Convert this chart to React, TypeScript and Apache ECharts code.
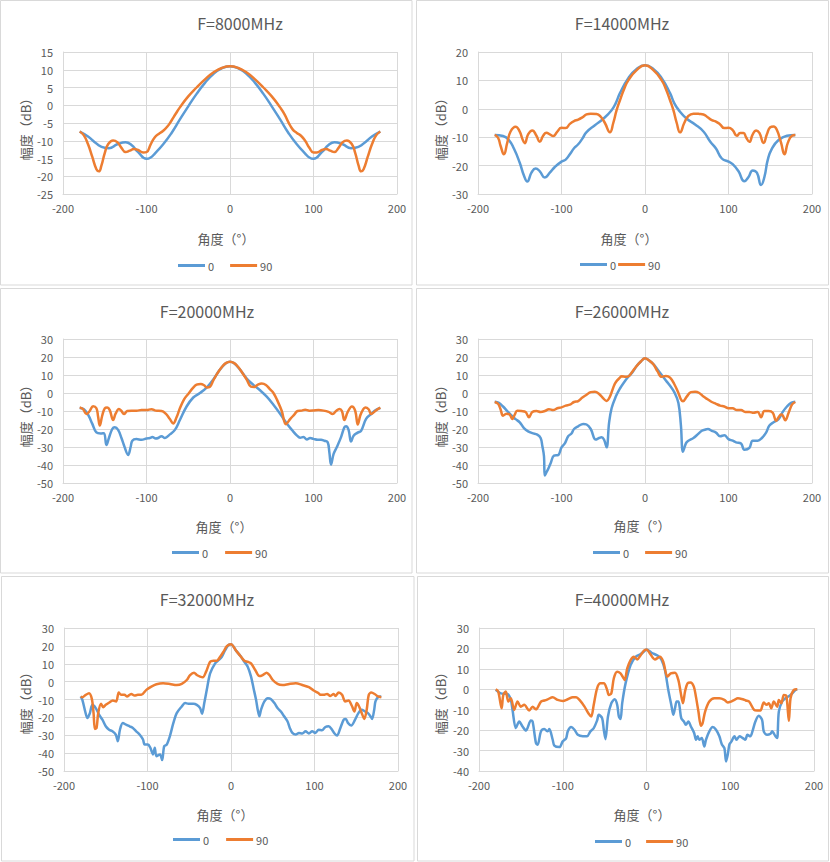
import React, { useEffect, useRef } from "react";
import * as echarts from "echarts";

// ---------- DATA (angle in degrees, amplitude in dB) ----------
const legendNames = ["0", "90"];
const xTicks = { min: -200, max: 200, interval: 100 };

const f8000_0 = [[-180,-7.4],[-170,-8.8],[-160,-10.8],[-150,-12],[-145,-12.1],[-135,-11],[-125,-10.4],[-118,-11.2],[-110,-13.2],[-100,-15.1],[-95,-14.7],[-90,-13.6],[-80,-11],[-70,-7.8],[-60,-4],[-50,-0.3],[-40,3.2],[-30,6.3],[-20,8.8],[-10,10.4],[0,11],[10,10.4],[20,8.8],[30,6.3],[40,3.2],[50,-0.3],[60,-4],[70,-7.8],[80,-11],[90,-13.6],[95,-14.7],[100,-15.1],[110,-13.2],[118,-11.2],[125,-10.4],[135,-11],[145,-12.1],[150,-12],[160,-10.8],[170,-8.8],[180,-7.4]];
const f8000_90 = [[-180,-7.4],[-175,-8.5],[-170,-11],[-165,-14.5],[-160,-18],[-157,-18.6],[-154,-17],[-150,-13.5],[-146,-11],[-140,-9.9],[-135,-10.4],[-130,-12],[-125,-13.2],[-120,-12.8],[-115,-12.3],[-110,-12.6],[-104,-13.3],[-100,-13.2],[-95,-11],[-90,-9],[-85,-8],[-80,-7.2],[-75,-6],[-70,-4.3],[-65,-2.4],[-60,-0.6],[-50,2.5],[-40,5],[-30,7.3],[-20,9.2],[-10,10.5],[0,11],[10,10.5],[20,9.2],[30,7.3],[40,5],[50,2.5],[60,-0.6],[65,-2.4],[70,-4.8],[75,-6.8],[80,-7.8],[85,-8.6],[90,-10],[95,-12],[100,-13.3],[104,-13.3],[110,-12.6],[115,-12.3],[120,-12.8],[125,-13.2],[130,-12],[135,-10.4],[140,-9.9],[146,-11],[150,-13.5],[154,-17],[157,-18.6],[160,-18],[165,-14.5],[170,-11],[175,-8.5],[180,-7.4]];

const f14000_0 = [[-180,-9.2],[-170,-9.6],[-163,-11],[-157,-14],[-150,-19],[-145,-23.5],[-141,-25.6],[-136,-22.5],[-131,-21],[-126,-22],[-120,-24.2],[-114,-22.5],[-108,-20.5],[-100,-18.6],[-95,-17.9],[-90,-16],[-85,-13.9],[-80,-12.5],[-75,-10.5],[-70,-8.2],[-60,-5.8],[-50,-3.5],[-40,-0.5],[-35,2],[-30,5.5],[-20,10.8],[-10,14],[0,15.3],[10,14],[20,10.8],[30,5.5],[35,2],[40,-0.3],[50,-3.5],[60,-5.5],[70,-8],[78,-11.5],[85,-14],[92,-17.5],[100,-18.6],[105,-19.5],[112,-22],[119,-25.5],[124,-24],[129,-21.7],[134,-22.5],[139,-26.8],[143,-24],[147,-18],[152,-14],[160,-11],[170,-9.5],[180,-9.2]];
const f14000_90 = [[-180,-9.2],[-176,-10.2],[-173,-13],[-169,-16],[-165,-12],[-161,-8],[-155,-6.3],[-150,-8],[-147,-10.5],[-144,-12.1],[-140,-9],[-135,-7.6],[-130,-9.5],[-126,-11.6],[-122,-9.5],[-118,-8.4],[-114,-9],[-110,-9.6],[-105,-8],[-100,-6.7],[-95,-6.8],[-90,-5.3],[-85,-4.3],[-80,-3.8],[-75,-3],[-70,-2],[-65,-1.7],[-58,-1.8],[-53,-2.8],[-48,-5],[-42,-8.3],[-38,-5],[-34,-0.5],[-30,3],[-25,7],[-20,10],[-10,13.6],[0,15.3],[10,13.6],[20,10],[25,7],[30,3],[34,-0.5],[38,-5],[42,-8.3],[47,-5],[52,-2.5],[58,-1.7],[65,-1.8],[70,-2],[75,-3],[80,-4],[85,-4.5],[90,-5.5],[95,-6.8],[100,-6.7],[105,-7.5],[110,-9.5],[114,-8.5],[118,-8.5],[121,-10],[125,-11.6],[129,-9],[133,-7.6],[137,-8.5],[142,-12],[146,-9],[150,-6.5],[154,-6.2],[158,-7.5],[163,-12],[167,-16],[171,-12],[176,-9.5],[180,-9.2]];

const f20000_0 = [[-180,-8.3],[-175,-9],[-170,-12],[-165,-17],[-160,-21.9],[-155,-22.5],[-151,-22.3],[-148,-28.9],[-145,-25],[-141,-20],[-138,-19],[-134,-20.5],[-130,-25],[-127,-29],[-122,-34.4],[-119,-30],[-117,-26.5],[-112,-25.6],[-106,-26],[-100,-25.3],[-96,-25],[-93,-24.5],[-89,-25.3],[-86,-25],[-82,-24],[-78,-25],[-72,-23],[-66,-20.5],[-60,-15],[-52,-7.5],[-44,-2.5],[-36,0],[-28,3],[-20,7.5],[-12,13],[-5,16.5],[0,17.4],[5,16.5],[12,13],[20,8],[28,4.5],[36,1.5],[44,-2],[52,-6.5],[60,-11.5],[68,-17],[75,-21],[80,-23.5],[84,-24.8],[88,-24.5],[92,-25.8],[96,-25],[100,-25.5],[105,-26],[109,-26],[113,-26.5],[117,-27.3],[119,-33],[121,-39.8],[124,-34],[128,-30],[133,-24.5],[137,-19],[139,-18.5],[142,-20.5],[145,-27],[148,-23.7],[153,-22],[157,-21],[163,-14.4],[169,-11.7],[175,-9.3],[180,-8.3]];
const f20000_90 = [[-180,-8],[-176,-9],[-172,-11.7],[-168,-10],[-164,-7.4],[-160,-8.5],[-158,-13],[-156,-18.1],[-153,-12.5],[-150,-8.5],[-147,-8],[-144,-9.5],[-140,-15],[-137,-11.5],[-133,-8.9],[-130,-10],[-127,-11.7],[-123,-10],[-118,-9.8],[-112,-9.8],[-106,-9.5],[-100,-9.5],[-94,-9],[-89,-9.8],[-82,-10],[-77,-11.5],[-72,-14.5],[-68,-16.9],[-64,-13.5],[-60,-8.5],[-55,-3.5],[-50,-0.5],[-44,3],[-40,4.6],[-35,5],[-31,4.3],[-28,3.1],[-24,3.5],[-20,7],[-15,11],[-10,14.3],[-5,16.6],[0,17.4],[5,16.6],[10,14.3],[15,11],[20,7.5],[25,3.5],[29,3.3],[33,4.5],[38,5.3],[43,4.5],[48,2],[52,0],[57,-4.5],[62,-10],[67,-17.3],[72,-14.5],[77,-12],[81,-10],[86,-9.8],[90,-9.3],[95,-9.8],[100,-9.7],[106,-9.5],[112,-9.8],[118,-10.5],[123,-11.6],[127,-10],[131,-8.9],[134,-10],[137,-15],[141,-10.5],[146,-7.5],[150,-10],[153,-17.5],[156,-12.5],[159,-9.5],[162,-8],[166,-9],[169,-11.7],[174,-10],[180,-8]];

const f26000_0 = [[-180,-4.8],[-175,-5.5],[-170,-7.5],[-165,-10],[-160,-12.5],[-155,-14.5],[-150,-16.3],[-145,-19.5],[-140,-21.3],[-135,-22.3],[-129,-23.1],[-125,-25],[-123,-29.3],[-121,-35],[-120,-45.9],[-118,-44],[-116,-42.2],[-113,-39],[-109,-34.8],[-104,-34.5],[-100,-30.2],[-96,-28],[-92,-24],[-88,-22.5],[-85,-20],[-80,-18.5],[-74,-17.2],[-70,-17.5],[-65,-20],[-59,-25.9],[-55,-25],[-52,-24.6],[-49,-26],[-46,-30.2],[-43,-16.5],[-40,-8.5],[-35,-2],[-30,2.5],[-25,6],[-20,9],[-15,11.5],[-10,15],[-5,17.5],[0,19.3],[5,18],[10,16],[15,13],[20,10],[25,7],[30,4],[35,0.5],[40,-5.5],[43,-18],[45.5,-32.6],[49,-28],[51.5,-26.7],[58,-25],[62,-23.5],[68,-21],[71.5,-20.4],[75.4,-20],[80,-21],[85,-22],[90,-24],[95,-23.5],[100,-25.6],[105,-26.5],[109,-27.4],[115,-28],[119,-31.5],[125,-30.5],[129,-26.5],[135,-26.5],[140,-25],[145,-22],[149,-18.1],[155,-16],[160,-14.5],[165,-10.5],[170,-7.5],[175,-5.5],[180,-4.8]];
const f26000_90 = [[-180,-5],[-176,-6],[-173,-9],[-170,-12.6],[-166,-11.5],[-162,-12],[-159,-14.4],[-156,-12],[-153,-9.8],[-148,-10],[-143,-10.5],[-139,-13.5],[-135,-10.5],[-130,-10],[-125,-10.5],[-120,-10],[-115,-9],[-110,-9.5],[-105,-8.5],[-100,-8],[-95,-7],[-90,-6.5],[-85,-5],[-80,-4.5],[-75,-2.5],[-70,-1],[-65,0.5],[-60,0.7],[-55,-0.5],[-50,-3],[-46,-4.4],[-42,-2],[-38,3],[-35,6],[-30,8.5],[-28,9.3],[-23,9],[-19,9.5],[-15,12],[-10,15],[-5,17.5],[0,19.3],[5,18],[10,16],[15,12],[20,9],[25,9.5],[30,8.5],[35,5],[40,0],[43,-3.5],[45.5,-4.6],[50,-2],[55,0.5],[60,0.7],[65,0],[70,-2],[75,-3.5],[80,-5],[85,-6],[90,-7],[95,-7.5],[100,-8.5],[105,-8.5],[110,-9.5],[115,-9.5],[120,-10.5],[125,-10.5],[130,-11],[135,-10.5],[139,-13.5],[143,-10],[148,-10],[153,-11],[157,-15.4],[160,-13.5],[163,-12],[165,-12.5],[168,-15.2],[172,-11],[176,-6.5],[180,-5]];

const f32000_0 = [[-180,-8.3],[-178,-10.2],[-174.6,-16.7],[-172,-20.4],[-169,-17.6],[-166,-13],[-162,-14.8],[-158,-18.5],[-154,-21.3],[-150,-25],[-146,-26.9],[-142,-27.8],[-138,-29.6],[-135.6,-33.3],[-133,-26.9],[-129.6,-23.1],[-125.6,-24.1],[-121.5,-25],[-117.5,-25.9],[-113.5,-27.8],[-109.5,-29.6],[-105.4,-32.4],[-103.4,-35.2],[-99.4,-35.2],[-96.6,-37],[-93.4,-40.7],[-91.3,-37],[-89.3,-41.7],[-85,-40.7],[-82.5,-43.9],[-80,-36.1],[-77,-35.2],[-73,-30.2],[-69,-23.1],[-65,-17.6],[-59,-13.9],[-55,-12],[-51,-12.4],[-45,-12.4],[-41,-13],[-37,-14.8],[-34.6,-18],[-32,-12],[-29,-4.6],[-25,4.6],[-19,10.2],[-15,12],[-11,13.9],[-7,17.6],[-3,20.4],[0,20.9],[6.3,17.2],[12,13.9],[16,11.1],[20,8.3],[24,2.8],[27,-3.7],[30,-10.2],[32,-15.7],[34,-19.4],[36,-15.7],[40,-11.1],[44,-9.3],[48,-9.8],[52,-12],[55.7,-14.8],[59.7,-16.7],[63.6,-19.4],[67.6,-22.2],[70.4,-25.9],[73.5,-28.7],[77.5,-29.6],[81.4,-28.7],[85.4,-29],[89.3,-27.8],[93.3,-29],[97.2,-27.8],[101,-28.7],[105,-26.9],[109,-27.2],[113,-25.4],[117,-25],[121,-26.9],[124,-29],[127,-30.2],[131,-25.9],[135,-21.3],[137.5,-20.9],[140,-23.1],[144,-24.6],[148.6,-21.3],[152.6,-17.6],[156.5,-15.7],[160.5,-16.7],[164,-17.6],[167.6,-19.8],[169,-20.9],[171.5,-15.7],[173,-11.1],[176,-8.7],[180,-8.3]];
const f32000_90 = [[-180,-8.3],[-178,-8.7],[-174,-7.4],[-170,-6.5],[-166.6,-9.8],[-164.6,-17.6],[-163,-26.5],[-161,-25.9],[-159,-17.6],[-155.7,-12.4],[-153,-14.3],[-150,-13],[-145.7,-11.7],[-141.6,-10.6],[-137.6,-11.1],[-134.4,-6.1],[-131.6,-7.4],[-127.6,-7.4],[-124.7,-8.3],[-119.5,-6.9],[-115.5,-7.8],[-111.5,-7.4],[-107.4,-7.4],[-101.4,-4.6],[-95.4,-2.8],[-89.3,-1.5],[-81.3,-0.9],[-73.2,-1.3],[-65,-1.9],[-59,-1.3],[-53,0.9],[-49,3.7],[-44.3,5],[-41,3.7],[-37,2.8],[-33.8,2.4],[-29.8,5.6],[-25,11.1],[-21,11.7],[-17,11.7],[-13,13.9],[-9,16.7],[-5,19.8],[0,20.9],[6.3,17.2],[12,13.9],[16,11.7],[20,11.1],[24,10.2],[29,6.5],[34,3.1],[38,3.7],[42.7,5],[46,3.7],[50,0.9],[55.7,-1.3],[61.7,-1.9],[69.6,-1.3],[77.5,-0.9],[85.4,-1.9],[93.3,-3.1],[99,-5],[105,-6.5],[107,-7.4],[111,-7.4],[115,-6.9],[119,-8],[123,-6.9],[125,-8],[129,-6.1],[133,-7.4],[136.8,-11.1],[140.7,-10.6],[144.7,-13.5],[147.8,-16.7],[150.6,-12],[153.4,-13.9],[156.5,-17.6],[159.7,-20.9],[162.5,-15.7],[165,-7.4],[168,-6.1],[172,-6.9],[176,-8.3],[180,-8.7]];

const f40000_0 = [[-180,-0.3],[-174,-2],[-166,-2.3],[-162,-5.2],[-160,-10],[-156,-19],[-152,-15.8],[-148,-18.2],[-144,-20.2],[-138,-15.3],[-136,-15.8],[-132,-26.3],[-130,-27.2],[-126,-20.6],[-122,-19.5],[-118,-20.6],[-116,-19.5],[-112,-24.7],[-110,-27.6],[-104,-28.3],[-100,-25.5],[-96,-24],[-94,-20.6],[-90,-18.5],[-86,-19.8],[-82,-22.3],[-76,-23],[-71,-23],[-67,-20.6],[-63,-19],[-59,-15.3],[-57,-12.5],[-53,-14.1],[-51,-19.8],[-49,-24.4],[-46,-13.3],[-42,-6.8],[-38,-4.9],[-35,-7.6],[-33,-13.3],[-31,-14.6],[-29,-6.8],[-25,2.9],[-19,11.9],[-13,15.9],[-7,17.2],[-1,19.2],[0,19.5],[6,17.9],[14,16.3],[18,14.3],[22,9.4],[26,-0.3],[30,-8.5],[32,-12.5],[34,-9.3],[36,-6],[38,-6],[39.5,-8.5],[41.5,-14.1],[44.7,-15.8],[47,-17.4],[50,-15.8],[53,-18.2],[57,-21.5],[59,-24.7],[61,-23],[63,-24.7],[66,-23.9],[69,-28],[71,-24.7],[75,-20.6],[79,-18.5],[83,-19.8],[87,-23],[90,-27],[93,-28.8],[95,-35.3],[97,-32],[99,-27],[101.5,-25.5],[105,-23],[107.5,-24.7],[111,-23],[115,-23.9],[118,-24.7],[120.5,-22.3],[124,-23],[126.5,-20.6],[130,-15.8],[134,-13],[138,-15],[140,-20.6],[144,-22.3],[148,-21.8],[150,-20.6],[154,-23],[156,-23.9],[158,-10.9],[162,-6],[166,-4.4],[172,-2.8],[178,-0.3],[180,0]];
const f40000_90 = [[-180,0],[-177,-1.1],[-173,-9.3],[-171,-2.8],[-168,-1.1],[-165,-6],[-162,-4.4],[-158,-10.1],[-154,-6],[-150,-8.5],[-146,-7.6],[-140,-10.4],[-136,-8.5],[-132,-9.8],[-126,-6],[-122,-5.5],[-118,-4.9],[-112,-3.9],[-106,-5.2],[-100,-5.7],[-94,-4.9],[-88,-3.9],[-84,-3.9],[-80,-5.2],[-74,-8.5],[-69,-12],[-66,-13.3],[-63,-7.6],[-59,0.5],[-55,2.9],[-51,2.9],[-47,-0.3],[-45,-2.8],[-42,-2],[-39,5.4],[-35,8.6],[-31,7.8],[-28.5,6.2],[-26,4.6],[-23,10.2],[-19,14.3],[-15,15.9],[-11,14.6],[-7,16.7],[-3,18.9],[0,19.5],[4,17.6],[10,14.6],[16,15.9],[20,13.5],[25,6.2],[29,7.8],[34,8.1],[38,4.6],[41,-2],[43.5,-6.8],[46,-1.1],[49,2.9],[52.5,3.3],[56.5,1.3],[59,-3.6],[62,-10.9],[65,-17.9],[67,-16.6],[70,-10.9],[75,-6],[81,-4.4],[87,-4.4],[93,-5.2],[97,-6.5],[101,-6],[105,-5.2],[109,-4.4],[115,-4.9],[118.5,-5.5],[122.5,-6],[128.5,-10.1],[132,-10.4],[136,-10.4],[140,-6.5],[143.5,-7.6],[146,-6.8],[149,-9.3],[152,-6],[156,-8.5],[158,-5.2],[161,-6.8],[164,-2.8],[167,-3.3],[170,-15.4],[172,-4.4],[176,-0.3],[180,0]];

// ---------- LAYOUT ----------
const FONT = '"Microsoft YaHei", "Noto Sans CJK SC", "Noto Sans", sans-serif';
const TXT = "#595959";
const GRIDC = "#d9d9d9";
const BLUE = "#5B9BD5";
const ORANGE = "#ED7D31";

const panels = [
  { title: "F=8000MHz", s0: f8000_0, s90: f8000_90, yMin: -25, yMax: 15, yInt: 5, smooth: true,
    box: [0.5, 0.5, 411.5, 284.5], grid: [63, 52, 334, 142], tx: 240, ty: 23, xnx: 226, xny: 238, ynx: 25, yny: 126, lgL: 178, lgG: 16, lgY: 267 },
  { title: "F=14000MHz", s0: f14000_0, s90: f14000_90, yMin: -30, yMax: 20, yInt: 10, smooth: true,
    box: [416.5, 0.5, 412, 284.5], grid: [478, 52, 334, 142], tx: 622, ty: 23, xnx: 629, xny: 238, ynx: 440, yny: 126, lgL: 580, lgG: 2, lgY: 266 },
  { title: "F=20000MHz", s0: f20000_0, s90: f20000_90, yMin: -50, yMax: 30, yInt: 10, smooth: 0.4,
    box: [0.5, 288.5, 411.5, 284.5], grid: [63, 339, 334, 144], tx: 207, ty: 311, xnx: 224, xny: 526, ynx: 25, yny: 413, lgL: 172, lgG: 17, lgY: 554 },
  { title: "F=26000MHz", s0: f26000_0, s90: f26000_90, yMin: -50, yMax: 30, yInt: 10, smooth: 0.4,
    box: [416.5, 288.5, 412, 284.5], grid: [478, 339, 334, 144], tx: 622, ty: 311, xnx: 642, xny: 525, ynx: 440, yny: 413, lgL: 593, lgG: 16, lgY: 554 },
  { title: "F=32000MHz", s0: f32000_0, s90: f32000_90, yMin: -50, yMax: 30, yInt: 10, smooth: 0.3,
    box: [1.5, 576.5, 412.5, 284.5], grid: [64, 628, 334, 143], tx: 207, ty: 599, xnx: 225, xny: 814, ynx: 25, yny: 700, lgL: 173, lgG: 17, lgY: 841 },
  { title: "F=40000MHz", s0: f40000_0, s90: f40000_90, yMin: -40, yMax: 30, yInt: 10, smooth: 0.3,
    box: [417.5, 576.5, 411, 284.5], grid: [479, 628, 335, 143], tx: 622, ty: 599, xnx: 642, xny: 814, ynx: 440, yny: 700, lgL: 595, lgG: 15, lgY: 843 },
];

export default function App() {
  const ref = useRef<HTMLDivElement>(null);
  useEffect(() => {
    document.body.style.margin = "0";
    const chart = echarts.init(ref.current as HTMLDivElement, undefined, { renderer: "svg" });
    const graphic: any[] = [];
    panels.forEach((p) => {
      graphic.push({ type: "rect", shape: { x: p.box[0], y: p.box[1], width: p.box[2], height: p.box[3] }, style: { fill: "none", stroke: GRIDC, lineWidth: 1 }, silent: true });
      graphic.push({ type: "text", x: p.tx, y: p.ty, style: { text: p.title, fill: TXT, font: `16px ${FONT}`, textAlign: "center", textVerticalAlign: "middle" } });
      graphic.push({ type: "text", x: p.xnx, y: p.xny, style: { text: "角度（°）", fill: TXT, font: `13px ${FONT}`, textAlign: "center", textVerticalAlign: "middle" } });
      graphic.push({ type: "text", x: p.ynx, y: p.yny, rotation: Math.PI / 2, style: { text: "幅度（dB）", fill: TXT, font: `13px ${FONT}`, textAlign: "center", textVerticalAlign: "middle" } });
    });
    const option: any = {
      animation: false,
      backgroundColor: "#ffffff",
      graphic,
      grid: panels.map((p) => ({ left: p.grid[0], top: p.grid[1], width: p.grid[2], height: p.grid[3], containLabel: false })),
      xAxis: panels.map((p, i) => ({
        type: "value", gridIndex: i, min: xTicks.min, max: xTicks.max, interval: xTicks.interval,
        axisLine: { show: true, onZero: false, lineStyle: { color: GRIDC, width: 1 } },
        axisTick: { show: false },
        splitLine: { show: true, lineStyle: { color: GRIDC, width: 1 } },
        axisLabel: { color: TXT, fontSize: 11, fontFamily: FONT, margin: 8 },
      })),
      yAxis: panels.map((p, i) => ({
        type: "value", gridIndex: i, min: p.yMin, max: p.yMax, interval: p.yInt,
        axisLine: { show: true, onZero: false, lineStyle: { color: GRIDC, width: 1 } },
        axisTick: { show: false },
        splitLine: { show: true, lineStyle: { color: GRIDC, width: 1 } },
        axisLabel: { color: TXT, fontSize: 11, fontFamily: FONT, margin: 10 },
      })),
      legend: panels.map((p) => ({
        data: legendNames, left: p.lgL, top: p.lgY - 7, orient: "horizontal", padding: 0,
        itemGap: p.lgG, itemWidth: 27, itemHeight: 3, icon: "rect",
        textStyle: { color: TXT, fontSize: 11, fontFamily: FONT, padding: [0, 0, 0, -2] },
      })),
      series: panels.flatMap((p, i) => [
        { name: legendNames[0], type: "line", xAxisIndex: i, yAxisIndex: i, data: p.s0, symbol: "none", showSymbol: false, smooth: p.smooth, color: BLUE, lineStyle: { color: BLUE, width: 2.5 } },
        { name: legendNames[1], type: "line", xAxisIndex: i, yAxisIndex: i, data: p.s90, symbol: "none", showSymbol: false, smooth: p.smooth, color: ORANGE, lineStyle: { color: ORANGE, width: 2.5 } },
      ]),
    };
    chart.setOption(option);
    return () => chart.dispose();
  }, []);
  return <div ref={ref} style={{ position: "absolute", left: 0, top: 0, width: 830, height: 862, background: "#fff" }} />;
}
